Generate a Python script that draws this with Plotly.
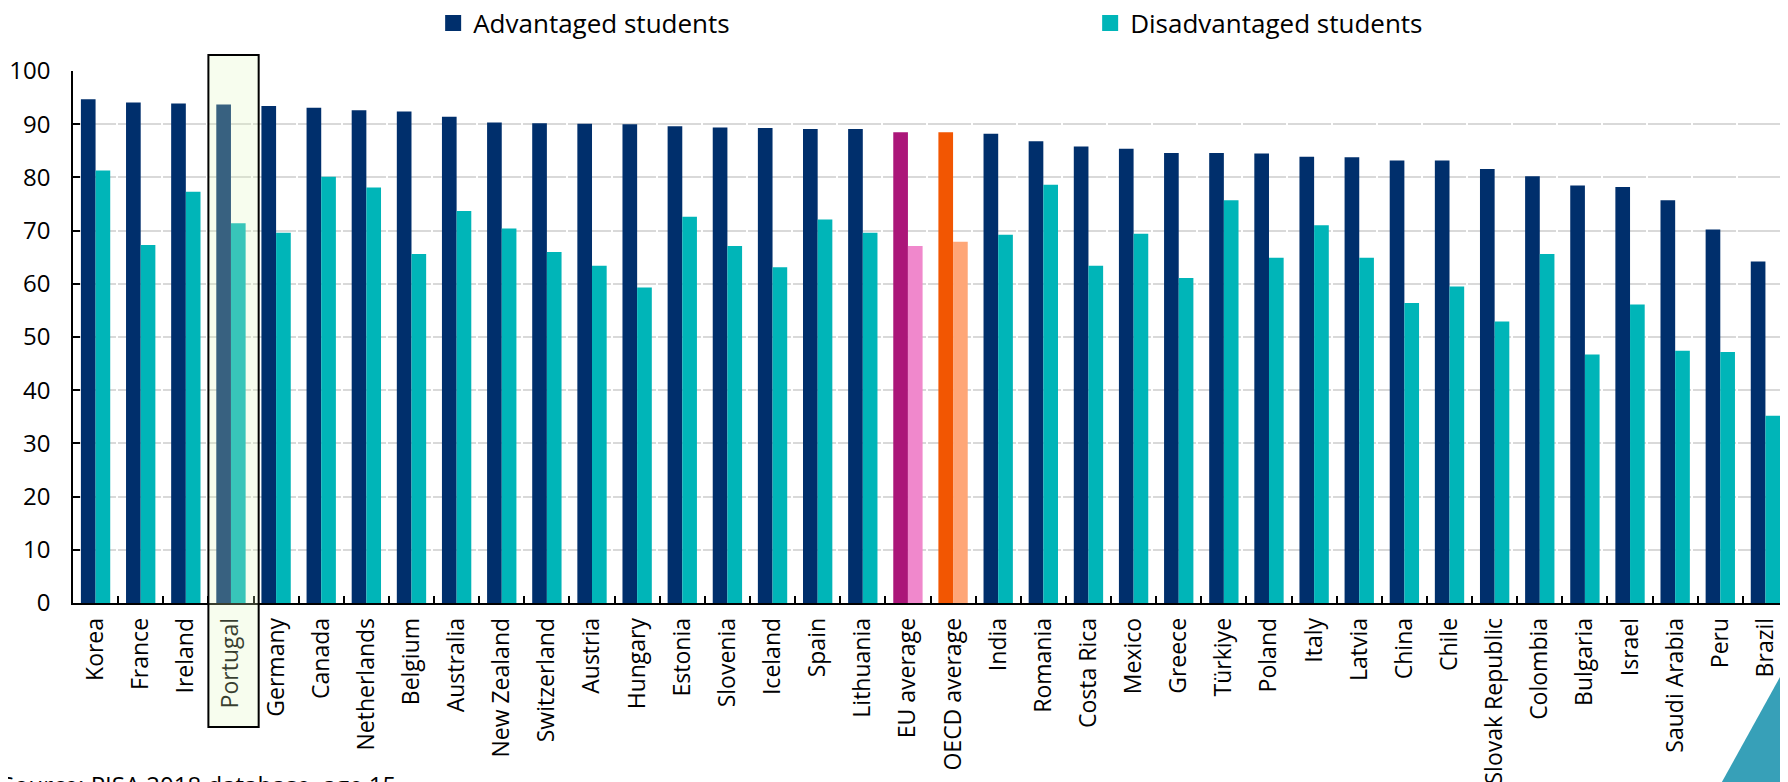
import plotly.graph_objects as go

categories = [
    "Korea", "France", "Ireland", "Portugal", "Germany", "Canada", "Netherlands",
    "Belgium", "Australia", "New Zealand", "Switzerland", "Austria", "Hungary",
    "Estonia", "Slovenia", "Iceland", "Spain", "Lithuania", "EU average",
    "OECD average", "India", "Romania", "Costa Rica", "Mexico", "Greece",
    "Türkiye", "Poland", "Italy", "Latvia", "China", "Chile", "Slovak Republic",
    "Colombia", "Bulgaria", "Israel", "Saudi Arabia", "Peru", "Brazil",
]
advantaged = [
    94.7, 94.1, 93.9, 93.7, 93.4, 93.1, 92.6, 92.4, 91.4, 90.3, 90.2, 90.1, 90.0,
    89.6, 89.4, 89.3, 89.1, 89.1, 88.5, 88.5, 88.2, 86.8, 85.8, 85.4, 84.6, 84.6,
    84.5, 83.9, 83.8, 83.2, 83.2, 81.6, 80.2, 78.5, 78.2, 75.7, 70.2, 64.2,
]
disadvantaged = [
    81.3, 67.3, 77.3, 71.4, 69.6, 80.1, 78.1, 65.6, 73.7, 70.4, 66.0, 63.4, 59.3,
    72.6, 67.1, 63.1, 72.1, 69.6, 67.1, 67.9, 69.2, 78.6, 63.4, 69.4, 61.1, 75.7,
    64.9, 71.0, 64.9, 56.4, 59.5, 52.9, 65.6, 46.7, 56.1, 47.4, 47.2, 35.2,
]
y_ticks = [0, 10, 20, 30, 40, 50, 60, 70, 80, 90, 100]

ADV_COLOR = "#002f6c"
DIS_COLOR = "#00b5b8"
# averages get their own colours (advantaged, disadvantaged)
SPECIAL = {
    "EU average": ("#ab1679", "#f088cc"),
    "OECD average": ("#f25602", "#fea677"),
}
FONT = "Open Sans"

adv_colors = [SPECIAL.get(c, (ADV_COLOR, DIS_COLOR))[0] for c in categories]
dis_colors = [SPECIAL.get(c, (ADV_COLOR, DIS_COLOR))[1] for c in categories]

fig = go.Figure()
fig.add_trace(go.Bar(
    x=categories, y=advantaged, name="Advantaged students", showlegend=False,
    marker=dict(color=adv_colors, line=dict(width=0)),
))
fig.add_trace(go.Bar(
    x=categories, y=disadvantaged, name="Disadvantaged students", showlegend=False,
    marker=dict(color=dis_colors, line=dict(width=0)),
))
# legend entries with bigger square swatches
for name, col in [("Advantaged students", ADV_COLOR), ("Disadvantaged students", DIS_COLOR)]:
    fig.add_trace(go.Scatter(
        x=[None], y=[None], mode="markers", name=name,
        marker=dict(symbol="square", size=16, color=col),
    ))

n = len(categories)
idx = categories.index("Portugal")
fig.add_shape(
    type="rect", xref="paper", yref="paper",
    x0=idx / n, x1=(idx + 1) / n + 0.003, y0=-0.233, y1=1.03,
    fillcolor="rgba(223,247,187,0.25)", line=dict(color="black", width=2),
    layer="above",
)

# decorative corner triangle
fig.add_shape(
    type="path", xref="paper", yref="paper",
    path="M 1.0 -0.112 L 0.954 -0.38 L 1.01 -0.38 L 1.01 -0.112 Z",
    fillcolor="#37a0b8", line=dict(width=0), layer="above",
)

fig.add_annotation(
    text="Source: PISA 2018 database, age 15", xref="paper", yref="paper",
    x=-0.043, y=-0.307, xanchor="left", yanchor="top", showarrow=False,
    font=dict(family=FONT, size=24, color="black"),
)

# page body has an 8px default margin, so the figure is shrunk by that much
fig.update_layout(
    width=1780, height=774,
    margin=dict(l=65, r=0, t=63, b=179, autoexpand=False),
    plot_bgcolor="white", paper_bgcolor="white",
    barmode="group", bargap=0.35, bargroupgap=0,
    font=dict(family=FONT, size=23, color="black"),
    legend=dict(
        orientation="h", x=0.21, y=1.09, xanchor="left", yanchor="middle",
        font=dict(size=26), entrywidth=612, itemwidth=30,
        bgcolor="rgba(0,0,0,0)",
    ),
)
fig.update_xaxes(
    range=[-0.5, n - 0.5], tickangle=-90, tickson="boundaries",
    ticks="inside", ticklen=7, tickcolor="black", tickwidth=1.5,
    showline=True, linecolor="black", linewidth=1.5,
    showgrid=False, ticklabelstandoff=4,
)
fig.update_yaxes(
    range=[0, 100], tickvals=y_ticks, tickfont=dict(size=24),
    ticks="inside", ticklen=7, tickcolor="black", tickwidth=1.5,
    showline=True, linecolor="black", linewidth=1.5,
    gridcolor="#d9d9d9", gridwidth=1.5, griddash="43px,2px",
    zeroline=False, ticklabelstandoff=16,
)

fig.write_html("out.html")
